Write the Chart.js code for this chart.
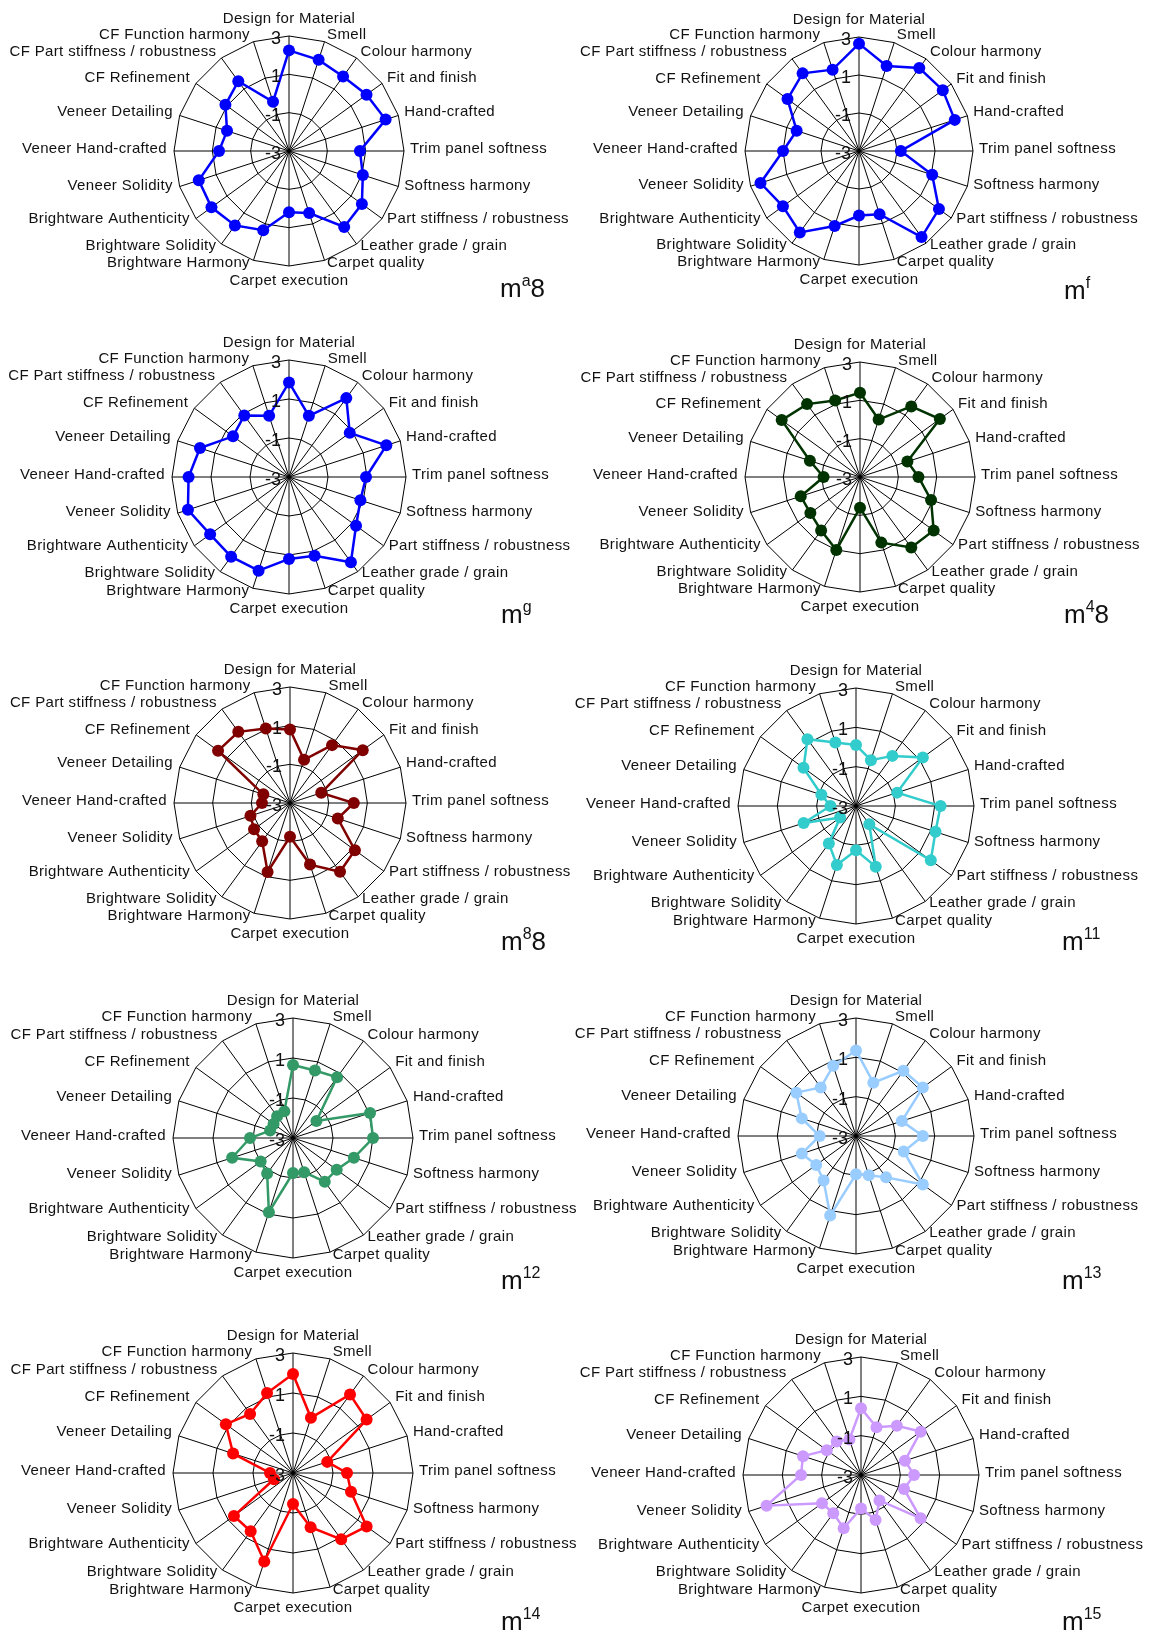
<!DOCTYPE html>
<html>
<head>
<meta charset="utf-8">
<script src="https://cdn.jsdelivr.net/npm/chart.js@4"></script>
<style>
  body { margin: 0; background: #fff; width: 1149px; height: 1636px; position: relative; overflow: hidden;
         font-family: "Liberation Sans", Arial, sans-serif; }
  .panel { position: absolute; }
  .tag { position: absolute; font-size: 26px; line-height: 1; color: #111; white-space: nowrap; }
  .tag sup { font-size: 16px; vertical-align: 11px; line-height: 0; }
</style>
</head>
<body>
<script>
// attribute axes, clockwise from the top
const attributes = [
  'Design for Material', 'Smell', 'Colour harmony', 'Fit and finish', 'Hand-crafted',
  'Trim panel softness', 'Softness harmony', 'Part stiffness / robustness', 'Leather grade / grain',
  'Carpet quality', 'Carpet execution', 'Brightware Harmony', 'Brightware Solidity',
  'Brightware Authenticity', 'Veneer Solidity', 'Veneer Hand-crafted', 'Veneer Detailing',
  'CF Refinement', 'CF Part stiffness / robustness', 'CF Function harmony'
];
const tickValues = [-3, -1, 1, 3];

// one series per panel
const ma8 = [2.25, 2.0, 1.8, 2.0, 2.3, 0.7, 1.05, 1.7, 1.9, 0.4, 0.2, 1.35, 1.8, 2.0, 1.95, 0.65, 0.4, 1.1, 1.5, -0.3];
const mf  = [2.65, 1.7, 2.4, 2.45, 2.3, -0.8, 1.05, 2.2, 2.6, 0.5, 0.4, 1.15, 2.3, 1.95, 2.45, 1.0, 0.45, 1.65, 2.05, 1.5];
const mg  = [1.85, 0.3, 2.0, 0.85, 2.25, 0.95, 0.85, 1.25, 2.4, 1.25, 1.2, 2.05, 2.05, 2.0, 2.45, 2.15, 1.8, 0.55, 0.9, 0.3];
const m48 = [1.4, 0.15, 1.55, 2.15, -0.4, 0.05, 0.9, 1.75, 1.55, 0.6, -1.4, 1.0, 0.45, 0.2, 0.25, -1.1, -0.25, 2.05, 1.7, 1.2];
const m88 = [0.8, -0.65, 0.7, 1.65, -1.3, 0.3, -0.4, 1.15, 1.4, 0.35, -1.25, 0.75, -0.55, -0.7, -0.85, -1.55, -1.55, 1.6, 1.55, 1.05];
const m11 = [0.1, -0.55, 0.15, 1.2, -0.8, 1.3, 1.25, 1.7, -1.85, 0.25, -0.75, 0.15, -0.65, -2.0, -0.2, -1.7, -1.15, 0.3, 1.2, 0.4];
const m12 = [0.65, 0.55, 0.75, -1.55, 1.05, 1.0, 0.2, -0.3, -0.3, -1.2, -1.25, 0.9, -0.8, -1.0, 0.2, -0.85, -1.8, -1.8, -1.65, -1.6];
const m13 = [1.35, -0.15, 1.1, 1.2, -0.55, 0.4, -0.45, 1.2, -0.4, -0.9, -1.05, 1.25, -0.2, -0.5, -0.1, -1.15, -0.1, 0.75, 0.05, 0.75];
const m14 = [1.95, -0.1, 1.85, 1.55, -1.2, -0.3, 0.05, 1.55, 1.1, -0.15, -1.45, 1.65, 0.6, 0.65, -2.0, -1.85, 0.15, 1.15, 0.65, 1.2];
const m15 = [0.4, -0.45, 0.1, 0.75, -0.65, -0.3, -0.7, 0.75, -1.4, -0.6, -1.3, -0.15, -0.6, -0.55, 2.05, 0.05, 0.1, -0.85, -0.9, -1.1];

// panel tags: base, superscript, tail
const tagBase = ['m', 'm', 'm', 'm', 'm', 'm', 'm', 'm', 'm', 'm'];
const tagSup  = ['a', 'f', 'g', '4', '8', '11', '12', '13', '14', '15'];
const tagTail = ['8', '', '', '8', '8', '', '', '', '', ''];

const seriesList = [ma8, mf, mg, m48, m88, m11, m12, m13, m14, m15];
const colours = ['#0000ff', '#0000ff', '#0000ff', '#003300', '#800000', '#33cccc', '#339966', '#99ccff', '#ff0000', '#cc99ff'];

// layout: chart centre, outer ring radius, tag position (left, baseline)
const centres = [[289, 151], [859, 151], [289, 477], [860, 477], [290, 803], [856, 806], [293, 1138], [856, 1136], [293, 1473], [861, 1475]];
const radii = [115, 114, 117, 115, 116, 118, 120, 118, 120, 118];
const tagPos = [[500, 298], [1064, 300], [501, 624], [1064, 624], [501, 951], [1062, 951], [501, 1290], [1062, 1290], [501, 1631], [1062, 1631]];

const FONT = '"Liberation Sans", Arial, sans-serif';
const W = 574, H = 330;

// tick numbers drawn right-aligned just left of the vertical axis
const tickLabelPlugin = {
  id: 'tickLabels',
  afterDatasetsDraw(chart) {
    const r = chart.scales.r;
    const ctx = chart.ctx;
    ctx.save();
    ctx.font = '18px ' + FONT;
    ctx.fillStyle = '#111';
    ctx.textAlign = 'right';
    ctx.textBaseline = 'middle';
    tickValues.forEach(v => {
      const d = r.getDistanceFromCenterForValue(v);
      ctx.fillText(String(v), r.xCenter - 8, r.yCenter - d + 3);
    });
    ctx.restore();
  }
};

// attribute names centred on each spoke end, like the source figure
const spokeLabelPlugin = {
  id: 'spokeLabels',
  afterDraw(chart) {
    const r = chart.scales.r;
    const ctx = chart.ctx;
    const labels = chart.data.labels;
    ctx.save();
    ctx.font = '15px ' + FONT;
    ctx.letterSpacing = '0.35px';
    ctx.fillStyle = '#111';
    ctx.textBaseline = 'middle';
    labels.forEach((label, i) => {
      const deg = i * 360 / labels.length;
      const p = r.getPointPosition(i, r.drawingArea + 5);
      let x = p.x, y = p.y - 2.5;
      if (deg === 0) {
        ctx.textAlign = 'center';
        y = r.yCenter - r.drawingArea - 17.5;
      } else if (deg === 180) {
        ctx.textAlign = 'center';
        y = r.yCenter + r.drawingArea + 15;
      } else if (deg < 180) {
        ctx.textAlign = 'left';
        x += 1;
      } else {
        ctx.textAlign = 'right';
        x -= 2;
      }
      ctx.fillText(label, x, y);
    });
    ctx.restore();
  }
};

function createRadar(i) {
  const div = document.createElement('div');
  div.className = 'panel';
  div.style.left = (centres[i][0] - W / 2) + 'px';
  div.style.top = (centres[i][1] - H / 2) + 'px';
  const canvas = document.createElement('canvas');
  canvas.width = W;
  canvas.height = H;
  div.appendChild(canvas);
  document.body.appendChild(div);

  const pad = H / 2 - radii[i];

  new Chart(canvas.getContext('2d'), {
    type: 'radar',
    data: {
      labels: attributes,
      datasets: [{
        data: seriesList[i],
        borderColor: colours[i],
        backgroundColor: colours[i],
        pointBackgroundColor: colours[i],
        pointBorderWidth: 0,
        pointRadius: 6,
        borderWidth: 2.5,
        fill: false,
        clip: false
      }]
    },
    options: {
      responsive: false,
      animation: false,
      layout: { padding: { top: pad, bottom: pad, left: 0, right: 0 } },
      plugins: { legend: { display: false }, tooltip: { enabled: false } },
      scales: {
        r: {
          min: -3,
          max: 3,
          ticks: { display: false, stepSize: 2 },
          grid: { color: '#000', lineWidth: 1 },
          angleLines: { color: '#000', lineWidth: 1 },
          pointLabels: { display: false }
        }
      }
    },
    plugins: [tickLabelPlugin, spokeLabelPlugin]
  });

  const tag = document.createElement('div');
  tag.className = 'tag';
  tag.style.left = tagPos[i][0] + 'px';
  tag.style.top = (tagPos[i][1] - 23) + 'px';
  tag.innerHTML = tagBase[i] + '<sup>' + tagSup[i] + '</sup>' + tagTail[i];
  document.body.appendChild(tag);
}

for (let i = 0; i < seriesList.length; i++) {
  createRadar(i);
}
</script>
</body>
</html>
